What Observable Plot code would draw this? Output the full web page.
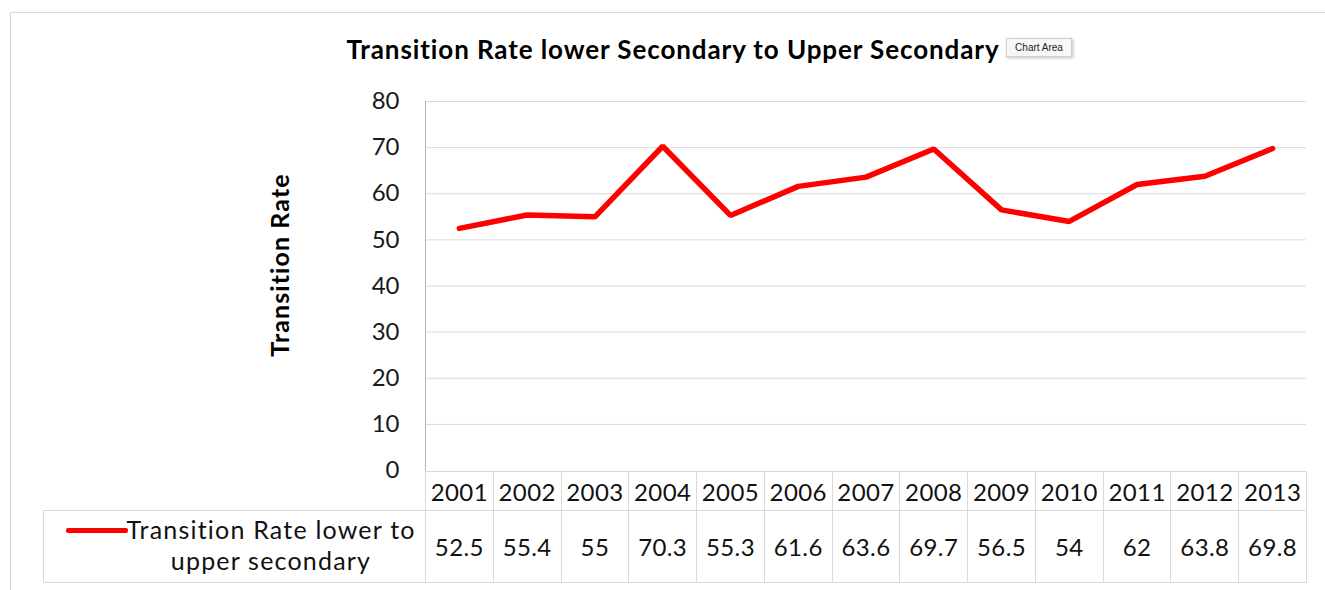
<!DOCTYPE html>
<html>
<head>
<meta charset="utf-8">
<script src="https://cdn.jsdelivr.net/npm/d3@7"></script>
<script src="https://cdn.jsdelivr.net/npm/@observablehq/plot@0.6"></script>
<style>
  html, body { margin: 0; padding: 0; background: #fff; }
  #wrap { position: relative; width: 1325px; height: 590px; overflow: hidden; font-family: Lato, "Liberation Sans", sans-serif; font-variant-ligatures: none; }
  #area { position: absolute; left: 10px; top: 12px; width: 1400px; height: 700px; border: 1px solid #d9d9d9; box-shadow: 0 0 2px #eee; }
  #title { position: absolute; left: 173px; width: 1000px; top: 33px; text-align: center; font-weight: 700; font-size: 26px; letter-spacing: 0.9px; color: #000; white-space: nowrap; }
  #tip { position: absolute; left: 1006px; top: 38px; width: 64px; height: 17px; border: 1px solid #cfcfcf; background: #f7f7f7; font-size: 10px; line-height: 17px; text-align: center; color: #222; box-shadow: 1px 1px 3px rgba(0,0,0,0.25); font-family: "Liberation Sans", sans-serif; }
  #ytitle { position: absolute; left: 279px; top: 265px; transform: translate(-50%, -50%) rotate(-90deg); font-weight: 700; font-size: 25px; letter-spacing: 1.1px; white-space: nowrap; color: #000; }
  .cell { position: absolute; box-sizing: border-box; border: 1px solid #d9d9d9; display: flex; align-items: center; justify-content: center; font-size: 24px; letter-spacing: 0.4px; color: #111; }
  #legend { position: absolute; box-sizing: border-box; border: 1px solid #d9d9d9; }
  #legkey { position: absolute; height: 5px; background: #ff0000; border-radius: 2px; }
  #legtext { position: absolute; text-align: center; font-size: 25px; letter-spacing: 1.2px; line-height: 31px; color: #111; white-space: nowrap; }
  svg { position: absolute; left: 0; top: 0; }
</style>
</head>
<body>
<div id="wrap">
  <div id="area"></div>
</div>
<script>
const years = ["2001","2002","2003","2004","2005","2006","2007","2008","2009","2010","2011","2012","2013"];
const rates = [52.5, 55.4, 55, 70.3, 55.3, 61.6, 63.6, 69.7, 56.5, 54, 62, 63.8, 69.8];
const yTicks = [0, 10, 20, 30, 40, 50, 60, 70, 80];
const seriesName = ["Transition Rate lower to", "upper secondary"];
const titleText = "Transition Rate lower Secondary to Upper Secondary";
const yLabel = "Transition Rate";

const data = years.map((year, i) => ({year, rate: rates[i]}));

const chart = Plot.plot({
  width: 1325,
  height: 590,
  marginTop: 101,
  marginBottom: 120,
  marginLeft: 425,
  marginRight: 19,
  style: {background: "transparent", fontFamily: "Lato, 'Liberation Sans', sans-serif", overflow: "visible"},
  x: {type: "point", domain: years, padding: 0.5, round: false, axis: null},
  y: {domain: [0, 80], ticks: yTicks, label: null},
  marks: [
    Plot.gridY(yTicks.filter(t => t > 0), {stroke: "#d9d9d9", strokeOpacity: 1, strokeWidth: 1}),
    Plot.axisY(yTicks, {tickSize: 0, tickPadding: 26, fontSize: 24, label: null, fill: "#1a1a1a", tickFormat: d => String(d)}),
    Plot.frame({anchor: "left", stroke: "#a7bad8", strokeWidth: 1}),
    Plot.line(data, {x: "year", y: "rate", stroke: "#ff0000", strokeWidth: 5.5, strokeLinejoin: "miter", strokeLinecap: "round"})
  ]
});

const wrap = document.getElementById("wrap");
wrap.appendChild(chart);

const title = document.createElement("div");
title.id = "title"; title.textContent = titleText; wrap.appendChild(title);
const tip = document.createElement("div");
tip.id = "tip"; tip.textContent = "Chart Area"; wrap.appendChild(tip);
const yt = document.createElement("div");
yt.id = "ytitle"; yt.textContent = yLabel; wrap.appendChild(yt);

// data table aligned to the chart's own x and y scales
const xs = chart.scale("x");
const ys = chart.scale("y");
const step = xs.apply(years[1]) - xs.apply(years[0]);
const top0 = ys.apply(0) + 1;
const rowH1 = 39, rowH2 = 72;
years.forEach((yr, i) => {
  const cx = xs.apply(yr);
  const h = document.createElement("div");
  h.className = "cell";
  h.style.left = (cx - step / 2) + "px";
  h.style.width = (step + 1) + "px";
  h.style.top = top0 + "px";
  h.style.height = (rowH1 + 1) + "px";
  h.textContent = yr;
  wrap.appendChild(h);
  const v = document.createElement("div");
  v.className = "cell";
  v.style.left = (cx - step / 2) + "px";
  v.style.width = (step + 1) + "px";
  v.style.top = (top0 + rowH1) + "px";
  v.style.height = (rowH2 + 1) + "px";
  v.textContent = String(rates[i]);
  wrap.appendChild(v);
});
const leftX = xs.apply(years[0]) - step / 2;
const leg = document.createElement("div");
leg.id = "legend";
leg.style.left = "43px";
leg.style.width = (leftX - 43 + 1) + "px";
leg.style.top = (top0 + rowH1) + "px";
leg.style.height = (rowH2 + 1) + "px";
wrap.appendChild(leg);
const key = document.createElement("div");
key.id = "legkey";
key.style.left = "66px"; key.style.width = "62px";
key.style.top = (top0 + rowH1 + 18) + "px";
wrap.appendChild(key);
const lt = document.createElement("div");
lt.id = "legtext";
lt.style.left = "121px"; lt.style.width = "300px";
lt.style.top = (top0 + rowH1 + 4) + "px";
lt.innerHTML = seriesName.join("<br>");
wrap.appendChild(lt);
</script>
</body>
</html>
